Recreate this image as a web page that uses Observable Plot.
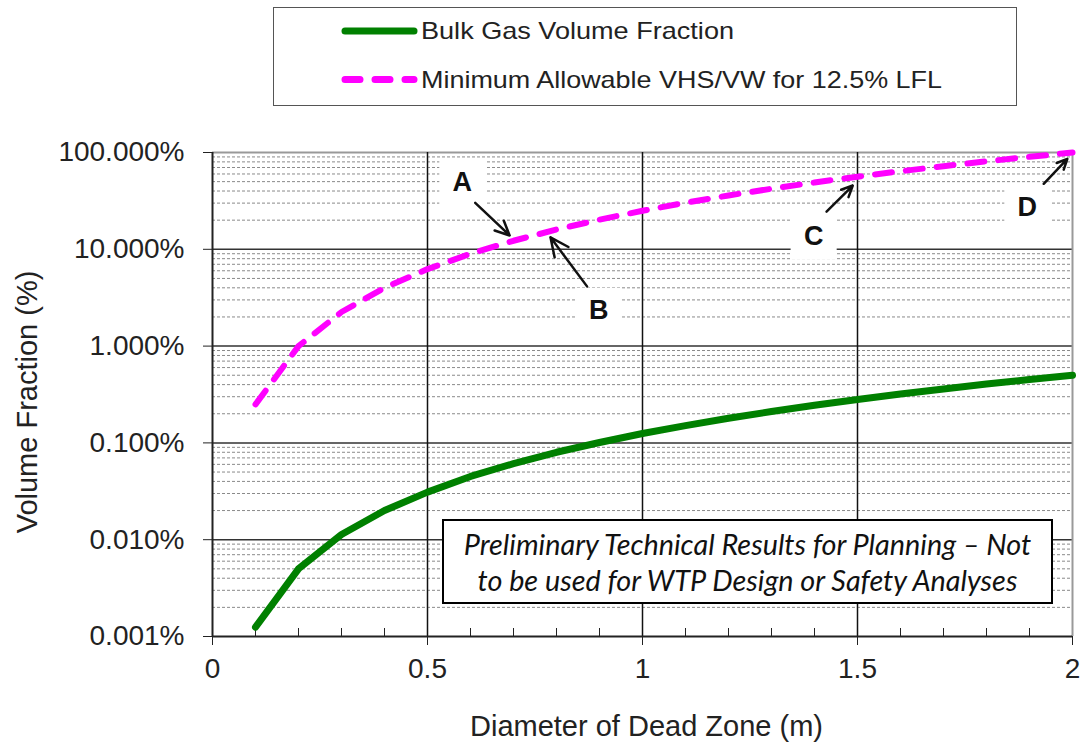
<!DOCTYPE html>
<html>
<head>
<meta charset="utf-8">
<script src="https://cdn.jsdelivr.net/npm/d3@7"></script>
<script src="https://cdn.jsdelivr.net/npm/@observablehq/plot@0.6"></script>
<style>
  body { margin: 0; background: #fff; font-family: Arial, "Liberation Sans", sans-serif; }
  #wrap { position: relative; width: 1082px; height: 744px; overflow: hidden; }
  #legend { position: absolute; left: 273px; top: 7px; width: 744px; height: 99px; box-sizing: border-box; border: 1.5px solid #555; background: #fff; }
  #legend svg { position: absolute; left: 0; top: 0; }
  #chart { position: absolute; left: 0; top: 108px; }
  #note { position: absolute; left: 442px; top: 519px; width: 611px; height: 85px; box-sizing: border-box; border: 2.5px solid #000; background: #fff;
          font-family: Lato, "Open Sans", sans-serif; font-style: italic; font-size: 28.8px; color: #111; text-align: center; line-height: 36px; padding-top: 5px; white-space: nowrap; }
</style>
</head>
<body>
<div id="wrap">
  <div id="legend"></div>
  <div id="chart"></div>
  <div id="note"></div>
</div>
<script>
// ---- data ----
const diameters = [0.1,0.2,0.3,0.4,0.5,0.6,0.7,0.8,0.9,1.0,1.1,1.2,1.3,1.4,1.5,1.6,1.7,1.8,1.9,2.0];
const bulkGas = [0.00125,0.005,0.0113,0.020,0.031,0.045,0.061,0.080,0.101,0.125,0.151,0.180,0.211,0.245,0.281,0.320,0.361,0.405,0.451,0.500];
const minAllowable = [0.25,1.0,2.25,4.0,6.25,9.0,12.25,16.0,20.25,25.0,30.25,36.0,42.25,49.0,56.25,64.0,72.25,81.0,90.25,100.0];
const seriesNames = ["Bulk Gas Volume Fraction", "Minimum Allowable VHS/VW for 12.5% LFL"];
const seriesColors = ["#008000", "#ff00ff"];
const yTicks = [0.001, 0.01, 0.1, 1, 10, 100];
const minorMultipliers = [2,3,4,5,6,7,8,9];
const xTicks = [0, 0.5, 1, 1.5, 2];
const xMinorTicks = [0.1,0.2,0.3,0.4,0.6,0.7,0.8,0.9,1.1,1.2,1.3,1.4,1.6,1.7,1.8,1.9];
const xLabel = "Diameter of Dead Zone (m)";
const yLabel = "Volume Fraction (%)";
const noteLines = ["Preliminary Technical Results for Planning \u2013 Not", "to be used for WTP Design or Safety Analyses"];
const labels = [
  {name: "A", x: 0.581, y: 49.0},
  {name: "B", x: 0.898, y: 2.32},
  {name: "C", x: 1.398, y: 13.6},
  {name: "D", x: 1.895, y: 27.2}
];
const arrows = [
  {x1: 0.611, y1: 30.2, x2: 0.691, y2: 13.9},
  {x1: 0.871, y1: 4.14, x2: 0.786, y2: 13.3},
  {x1: 1.428, y1: 24.5, x2: 1.489, y2: 45.6},
  {x1: 1.933, y1: 47.5, x2: 1.988, y2: 86.1}
];

// ---- derived tables ----
const bulkData = diameters.map((d, i) => ({d, v: bulkGas[i]}));
const minData = diameters.map((d, i) => ({d, v: minAllowable[i]}));
const yMinor = yTicks.slice(0, -1).flatMap(t => minorMultipliers.map(m => t * m));
const fmt = d => d3.format(".3f")(d) + "%";

const plot = Plot.plot({
  width: 1082,
  height: 636,
  marginTop: 44,
  marginBottom: 108,
  marginLeft: 212,
  marginRight: 10,
  style: {fontFamily: "Arial, 'Liberation Sans', sans-serif", fontSize: "28px", color: "#222", background: "#fff"},
  x: {domain: [0, 2]},
  y: {type: "log", domain: [0.001, 100]},
  marks: [
    Plot.ruleY(yMinor, {stroke: "#8a8a8a", strokeWidth: 1, strokeDasharray: "3,2"}),
    Plot.ruleY(yTicks.slice(1, -1), {stroke: "#333", strokeWidth: 1.5}),
    Plot.ruleY([100], {stroke: "#999", strokeWidth: 2}),
    Plot.ruleX(xTicks.slice(1, -1), {stroke: "#111", strokeWidth: 1.5}),
    Plot.ruleX([2], {stroke: "#999", strokeWidth: 2}),
    Plot.dot(labels, {x: "x", y: "y", symbol: "square", r: 26, fill: "white", stroke: "none"}),
    Plot.axisY({ticks: yTicks, tickFormat: fmt, tickSize: 9, tickPadding: 19, fontSize: 28, label: null, stroke: "#222"}),
    Plot.axisX({ticks: xTicks, tickFormat: d => String(d), tickSize: 9, tickPadding: 13, fontSize: 28, label: null, stroke: "#222"}),
    Plot.axisX({ticks: xMinorTicks, tickFormat: () => "", tickSize: -8, label: null, stroke: "#222"}),
    Plot.text([yLabel], {frameAnchor: "left", textAnchor: "middle", lineAnchor: "middle", rotate: -90, dx: -184.5, dy: 7.5, fontSize: 29, fill: "#222"}),
    Plot.text([xLabel], {frameAnchor: "bottom", textAnchor: "middle", lineAnchor: "middle", dx: 4, dy: 90, fontSize: 29, fill: "#222"}),
    Plot.ruleX([0], {stroke: "#222", strokeWidth: 2}),
    Plot.ruleY([0.001], {stroke: "#222", strokeWidth: 2}),
    Plot.line(bulkData, {x: "d", y: "v", stroke: seriesColors[0], strokeWidth: 7, strokeLinecap: "round", strokeLinejoin: "round"}),
    Plot.line(minData, {x: "d", y: "v", stroke: seriesColors[1], strokeWidth: 6, strokeDasharray: "17,14", strokeLinecap: "round", strokeLinejoin: "round"}),
    Plot.arrow(arrows, {x1: "x1", y1: "y1", x2: "x2", y2: "y2", stroke: "#111", strokeWidth: 2.5, headLength: 13, headAngle: 50}),
    Plot.text(labels, {x: "x", y: "y", text: "name", fontSize: 27, fontWeight: "bold", fill: "#111"})
  ]
});
document.getElementById("chart").appendChild(plot);

// ---- legend ----
const legendTextWidths = [313, 521];
const lg = d3.select("#legend").append("svg").attr("width", 744).attr("height", 99);
seriesNames.forEach((name, i) => {
  const cy = 23 + i * 48.5;
  lg.append("line").attr("x1", 71).attr("x2", 140).attr("y1", cy).attr("y2", cy)
    .attr("stroke", seriesColors[i]).attr("stroke-width", 7).attr("stroke-linecap", "round")
    .attr("stroke-dasharray", i === 1 ? "15,15" : null);
  lg.append("text").attr("x", 147).attr("y", cy).attr("dy", "0.35em")
    .attr("font-size", 24).attr("fill", "#222").attr("font-family", "Arial, 'Liberation Sans', sans-serif")
    .attr("textLength", legendTextWidths[i]).attr("lengthAdjust", "spacingAndGlyphs").text(name);
});

// ---- note ----
document.getElementById("note").innerHTML = noteLines.join("<br>");
</script>
</body>
</html>
